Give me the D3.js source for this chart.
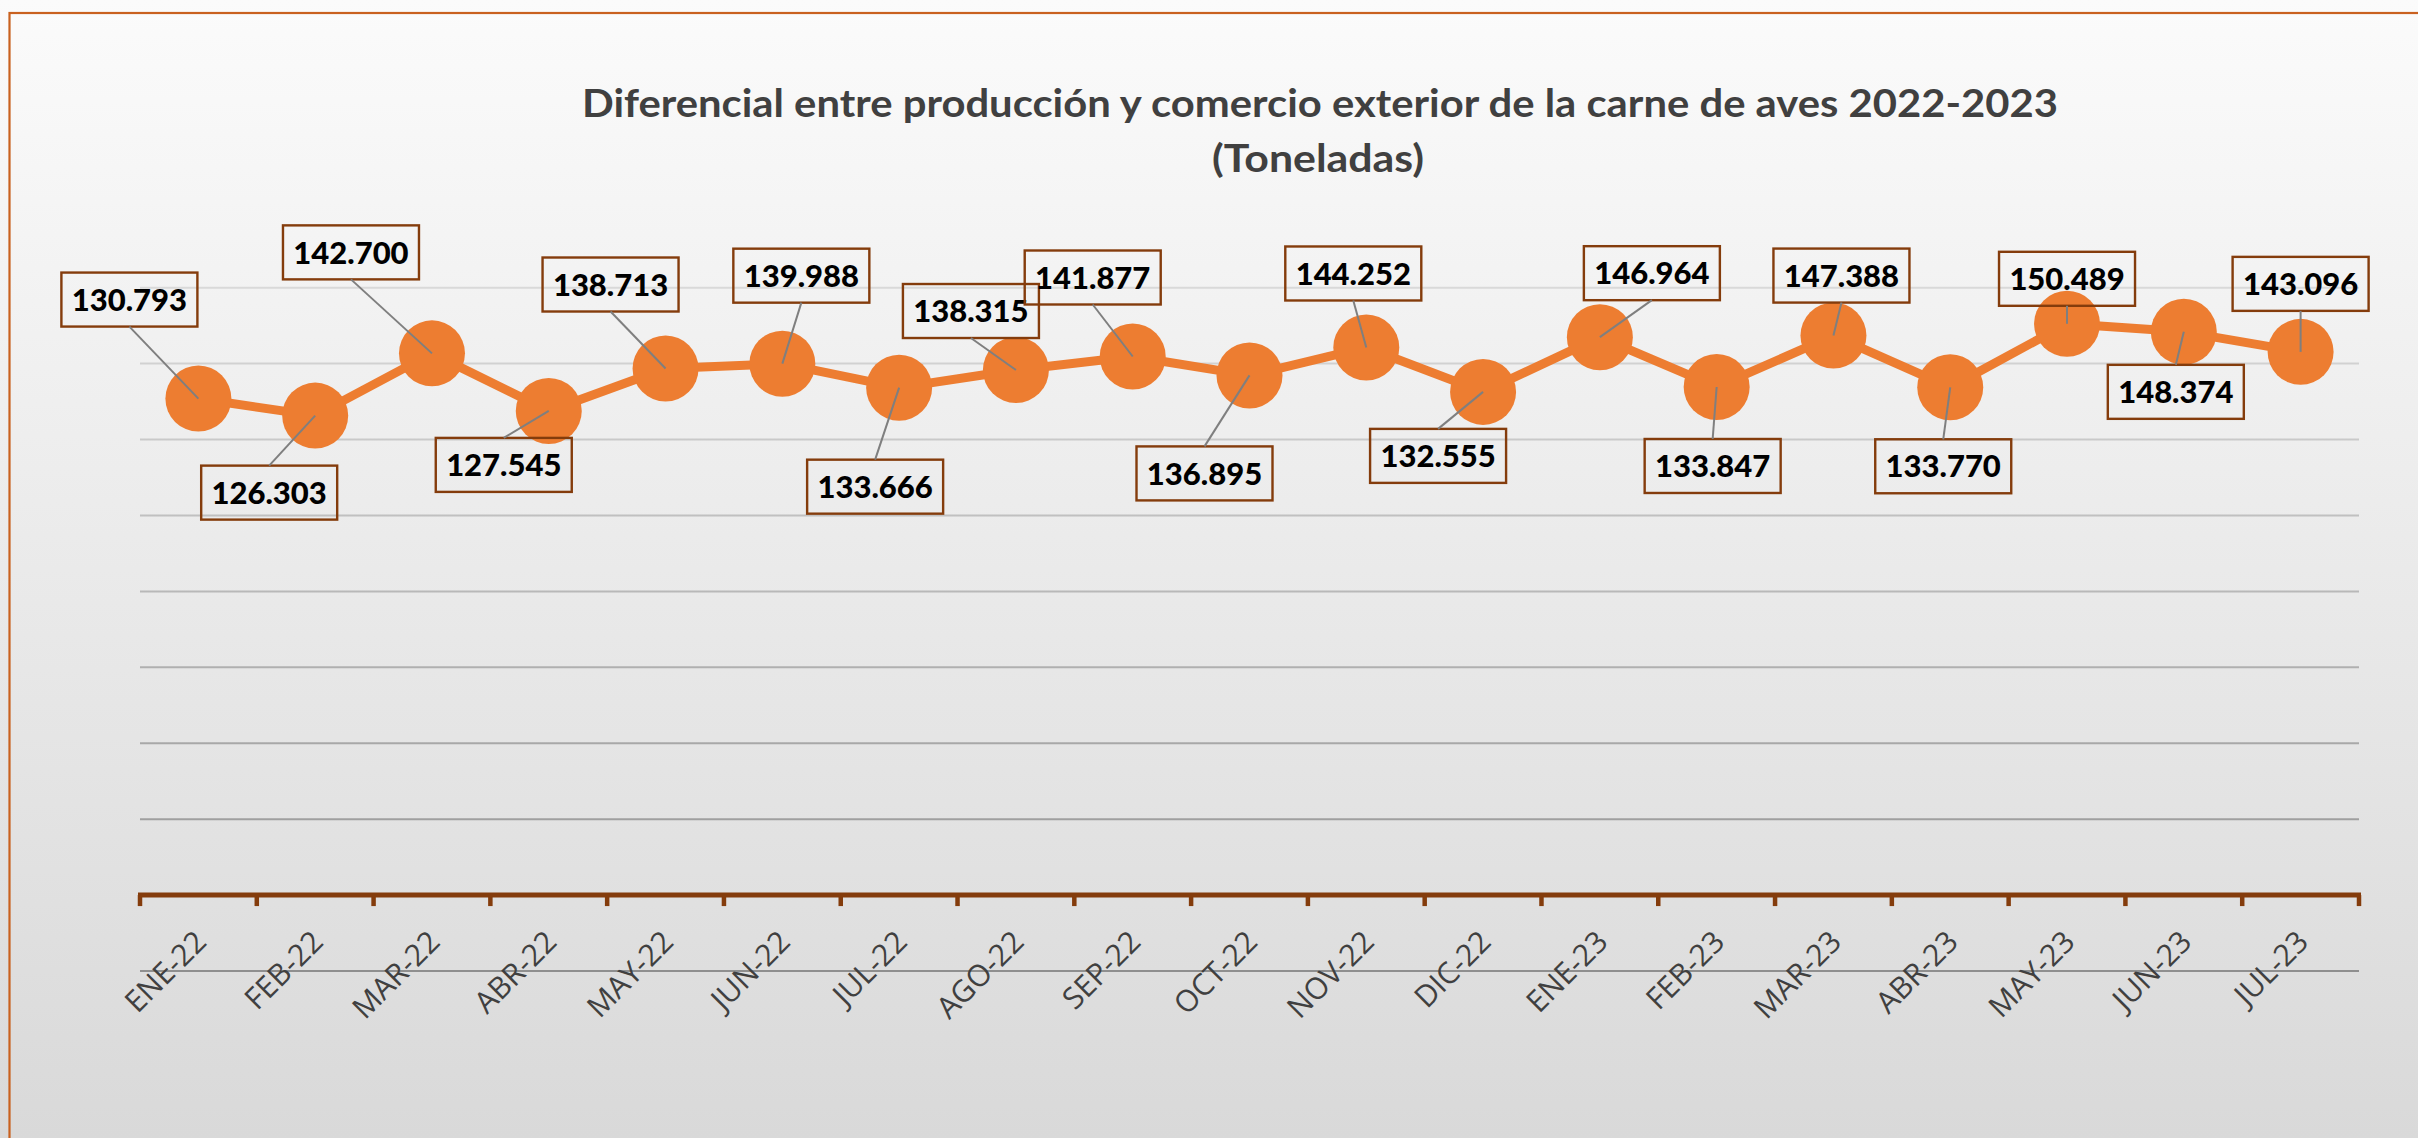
<!DOCTYPE html>
<html>
<head>
<meta charset="utf-8">
<script src="https://cdn.jsdelivr.net/npm/d3@7"></script>
<style>
  html, body { margin: 0; padding: 0; background: #ffffff; overflow: hidden; }
  svg { display: block; }
</style>
</head>
<body>
<svg id="chart" width="2418" height="1138"></svg>
<script>
// ---------- DATA ----------
const categories = ["ENE-22", "FEB-22", "MAR-22", "ABR-22", "MAY-22", "JUN-22", "JUL-22",
  "AGO-22", "SEP-22", "OCT-22", "NOV-22", "DIC-22", "ENE-23", "FEB-23", "MAR-23",
  "ABR-23", "MAY-23", "JUN-23", "JUL-23"];
const values = [130793, 126303, 142700, 127545, 138713, 139988, 133666,
  138315, 141877, 136895, 144252, 132555, 146964, 133847, 147388,
  133770, 150489, 148374, 143096];
const yTicks = [-20000, 0, 20000, 40000, 60000, 80000, 100000, 120000, 140000, 160000];
const titleLines = ["Diferencial entre producción y comercio exterior de la carne de aves 2022-2023", "(Toneladas)"];

// label placement (pixel offsets of each data-label box from its point)
const labelOffsets = [[-69, -99], [-46, 77], [-81, -101], [-45, 54], [-55, -84], [19, -88], [-24, 99],
  [-45, -59], [-40, -79], [-45, 98], [-13, -74], [-45, 64], [52, -64], [-4, 79], [8, -60],
  [-7, 79], [0, -45], [-8, 60], [0, -68]];

// ---------- SETUP ----------
const W = 2418, H = 1138;
const svg = d3.select("#chart");
const defs = svg.append("defs");
const bg = defs.append("linearGradient").attr("id", "bg")
  .attr("x1", 0).attr("y1", 0).attr("x2", 0).attr("y2", 1);
bg.append("stop").attr("offset", "0%").attr("stop-color", "#fbfbfb");
bg.append("stop").attr("offset", "100%").attr("stop-color", "#d9d9d9");

svg.append("rect").attr("x", 0).attr("y", 0).attr("width", W).attr("height", H).attr("fill", "url(#bg)");
svg.append("rect").attr("x", 9.5).attr("y", 13).attr("width", W + 50).attr("height", H + 50)
  .attr("fill", "none").attr("stroke", "#C9611F").attr("stroke-width", 2.2);

const fmt = d3.formatLocale({ decimal: ",", thousands: ".", grouping: [3], currency: ["$", ""] }).format(",d");

const x = d3.scaleBand().domain(categories).range([140, 2359]).paddingInner(0).paddingOuter(0);
const y = d3.scaleLinear().domain([-20000, 160000]).range([971, 287.7]);
const cx = c => x(c) + x.bandwidth() / 2;
const gridColor = d3.scaleLinear().domain([-20000, 160000]).range(["#8f8f8f", "#d9d9d9"]);

// ---------- TITLE ----------
const title = svg.append("g").attr("font-family", "Lato, 'Open Sans', sans-serif")
  .attr("font-weight", 700).attr("fill", "#404040").attr("font-size", 39).attr("text-anchor", "middle");
title.append("text").attr("x", 1320).attr("y", 117).text(titleLines[0])
  .attr("textLength", 1476).attr("lengthAdjust", "spacingAndGlyphs");
title.append("text").attr("x", 1318).attr("y", 172).text(titleLines[1])
  .attr("textLength", 212).attr("lengthAdjust", "spacingAndGlyphs");

// ---------- GRID ----------
svg.append("g").selectAll("line").data(yTicks).join("line")
  .attr("x1", x.range()[0]).attr("x2", x.range()[1])
  .attr("y1", d => y(d)).attr("y2", d => y(d))
  .attr("stroke", d => gridColor(d)).attr("stroke-width", 2);

// ---------- X AXIS ----------
const axisY = y(0);
const xAxis = svg.append("g").attr("transform", `translate(0,${axisY})`)
  .call(d3.axisBottom(x).tickSize(0).tickPadding(0));
xAxis.select(".domain").remove();
xAxis.attr("font-family", "'Open Sans', 'Noto Sans', sans-serif").attr("font-size", 30);
xAxis.selectAll(".tick text")
  .attr("fill", "#404040")
  .attr("y", null).attr("dy", "0.36em")
  .attr("text-anchor", "end")
  .attr("transform", "translate(2,41) rotate(-45)");

const bounds = categories.map(c => x(c)).concat([x.range()[1]]);
svg.append("g").selectAll("line").data(bounds).join("line")
  .attr("x1", d => d).attr("x2", d => d)
  .attr("y1", axisY).attr("y2", axisY + 11)
  .attr("stroke", "#843C0C").attr("stroke-width", 4.5);
svg.append("line").attr("x1", x.range()[0] - 2).attr("x2", x.range()[1] + 2)
  .attr("y1", axisY).attr("y2", axisY)
  .attr("stroke", "#843C0C").attr("stroke-width", 5);

// ---------- SERIES ----------
const pts = categories.map((c, i) => ({ c, v: values[i], i }));
svg.append("path").datum(pts)
  .attr("d", d3.line().x(d => cx(d.c)).y(d => y(d.v)))
  .attr("fill", "none").attr("stroke", "#ED7D31").attr("stroke-width", 9).attr("stroke-linejoin", "round");
svg.append("g").selectAll("circle").data(pts).join("circle")
  .attr("cx", d => cx(d.c)).attr("cy", d => y(d.v)).attr("r", 33).attr("fill", "#ED7D31");

// ---------- DATA LABELS ----------
const BW = 136, BH = 54;
const lab = svg.append("g").selectAll("g").data(pts).join("g");
lab.append("rect")
  .attr("x", d => cx(d.c) + labelOffsets[d.i][0] - BW / 2)
  .attr("y", d => y(d.v) + labelOffsets[d.i][1] - BH / 2)
  .attr("width", BW).attr("height", BH)
  .attr("fill", "none").attr("stroke", "#843C0C").attr("stroke-width", 2.4);
lab.append("text")
  .attr("x", d => cx(d.c) + labelOffsets[d.i][0])
  .attr("y", d => y(d.v) + labelOffsets[d.i][1])
  .attr("dy", "0.36em").attr("text-anchor", "middle")
  .attr("font-family", "Lato, 'Open Sans', sans-serif").attr("font-weight", 900)
  .attr("font-size", 31).attr("fill", "#000")
  .text(d => fmt(d.v));
lab.append("line")
  .attr("x1", d => cx(d.c) + labelOffsets[d.i][0])
  .attr("y1", d => y(d.v) + labelOffsets[d.i][1] + (labelOffsets[d.i][1] < 0 ? BH / 2 : -BH / 2))
  .attr("x2", d => cx(d.c)).attr("y2", d => y(d.v))
  .attr("stroke", "#7f7f7f").attr("stroke-width", 2);
</script>
</body>
</html>
